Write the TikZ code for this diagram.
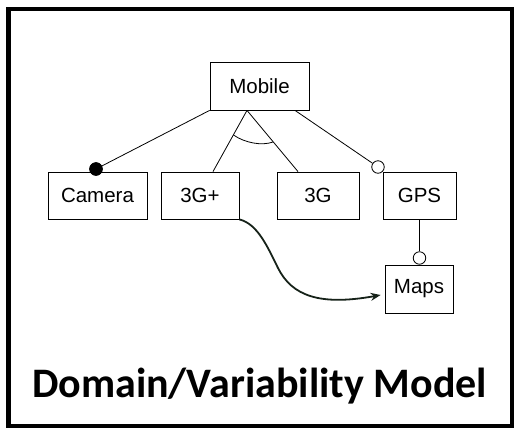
\documentclass[tikz,border=0pt]{standalone}
\usepackage{fontspec}
\setmainfont{Liberation Sans}
\newfontfamily\titlefont{Carlito}
\usetikzlibrary{arrows.meta,calc}
\definecolor{arrowc}{HTML}{162219}
\tikzset{
  feat/.style={draw, line width=0.8pt, inner sep=0pt, minimum height=47pt, font=\fontsize{20.5}{24}\selectfont},
  conn/.style={line width=0.8pt},
  optdot/.style={circle, draw, fill=white, line width=0.8pt, minimum size=12.5pt, inner sep=0pt},
  mandot/.style={circle, draw, fill=black, line width=0.8pt, minimum size=12.5pt, inner sep=0pt},
  reqarrow/.style={draw=arrowc, line width=1.8pt, -{Stealth[length=10pt,width=8pt]}}
}
\begin{document}
\begin{tikzpicture}[x=1pt,y=-1pt]
\useasboundingbox (0,0) rectangle (520,432);
\draw[line width=4.5pt] (8.5,9) rectangle (512,426);

\node[feat, minimum width=99pt, minimum height=48pt] (mobile) at (259.5,86) {Mobile};
\node[feat, minimum width=99pt] (camera) at (97.5,195.5) {Camera};
\node[feat, minimum width=78pt] (g3p) at (200,195.5) {3G+};
\node[feat, minimum width=82pt] (g3) at (318,195.5) {3G};
\node[feat, minimum width=73pt] (gps) at (419.5,195.5) {GPS};
\node[feat, minimum width=68pt, minimum height=48pt] (maps) at (419,289) {Maps};

\coordinate (apex) at ([xshift=-12.5pt]mobile.south);
\coordinate (gpsstart) at ([xshift=35.5pt]mobile.south);

% mandatory camera
\node[mandot] (camdot) at (96,169) {};
\draw[conn] (mobile.south west) -- (camdot);
\node[mandot] at (96,169) {};

% alternative group
\draw[conn] (apex) -- ([xshift=13pt]g3p.north);
\draw[conn] (apex) -- ([xshift=-20pt]g3.north);
\draw[conn] (233.5,135) .. controls (245,143) and (262,146) .. (273,142);

% optional GPS
\node[optdot] (gpsdot) at (378,167) {};
\draw[conn] (gpsstart) -- (gpsdot);

% optional Maps
\node[optdot] (mapsdot) at (419.5,258) {};
\draw[conn] (gps.south) -- (mapsdot);

% requires arrow
\coordinate (arrend) at ([xshift=-4pt,yshift=-6pt]maps.west);
\draw[reqarrow] (g3p.south east) .. controls (258,224) and (268,248) .. (278,268)
  .. controls (292,296) and (320,306) .. (arrend);

\node[font=\titlefont\bfseries\fontsize{42}{48}\selectfont, anchor=base] (title) at (259.5,397) {Domain/Variability Model};
\end{tikzpicture}
\end{document}
